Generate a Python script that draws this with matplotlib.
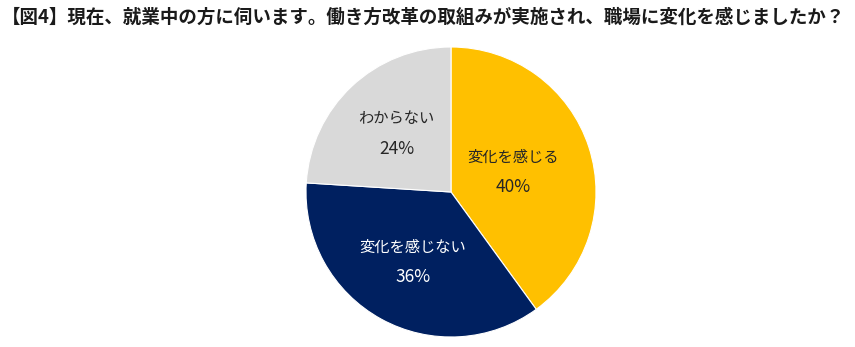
import numpy as np
import matplotlib.pyplot as plt

plt.rcParams['font.family'] = ['Noto Sans CJK JP', 'DejaVu Sans']

# survey answers, clockwise from 12 o'clock
labels = ["変化を感じる", "変化を感じない", "わからない"]
shares = [40, 36, 24]
colors = ["#FFC000", "#002060", "#D9D9D9"]
text_colors = ["#262626", "white", "#262626"]
label_dist = [0.45, 0.55, 0.55]

title = "【図4】現在、就業中の方に伺います。働き方改革の取組みが実施され、職場に変化を感じましたか？"

W, H = 855, 347
fig = plt.figure(figsize=(W / 100, H / 100), dpi=100)

# pie centre (451, 192) px from top-left, radius 145 px
cx, cy, r = 451, 192, 145
ax = fig.add_axes([(cx - r) / W, (H - cy - r) / H, 2 * r / W, 2 * r / H])

wedges, _ = ax.pie(shares, colors=colors, startangle=90, counterclock=False,
                   radius=1, wedgeprops=dict(edgecolor="white", linewidth=0.8))
ax.set_xlim(-1, 1)
ax.set_ylim(-1, 1)
ax.set_aspect("equal")
ax.axis("off")

gap = 15 / r  # half spacing between name and percentage lines
for w, name, val, tc, d in zip(wedges, labels, shares, text_colors, label_dist):
    mid = np.deg2rad((w.theta1 + w.theta2) / 2)
    x, y = d * np.cos(mid), d * np.sin(mid)
    ax.text(x, y + gap, name, ha="center", va="center", fontsize=11, color=tc)
    ax.text(x, y - gap, f"{val}%", ha="center", va="center", fontsize=12.5, color=tc)

fig.text(2 / W, 1 - 17 / H, title, ha="left", va="center", fontsize=13.3,
         fontweight="bold", color="#1a1a1a")

fig.savefig("out.png", dpi=100, facecolor="white")
